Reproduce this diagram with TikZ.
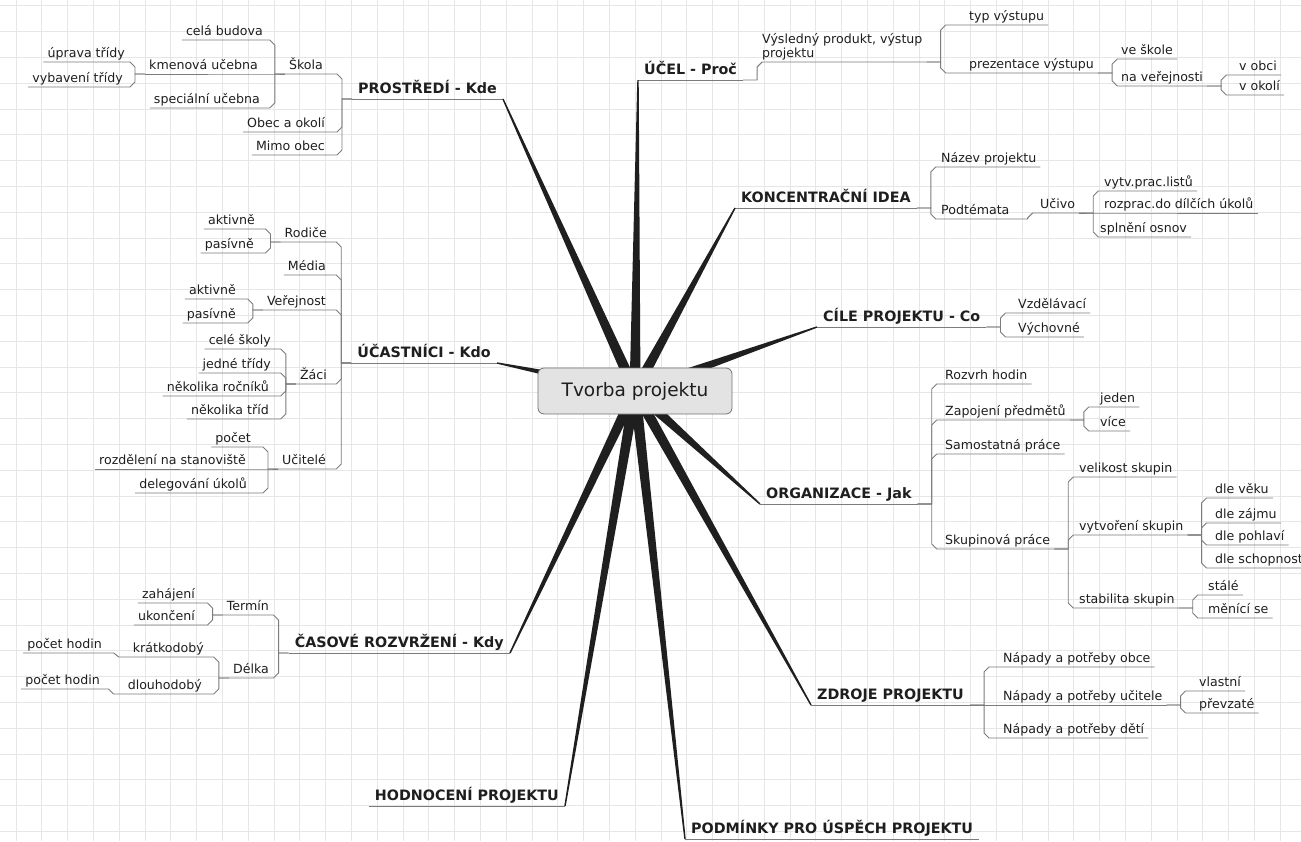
\documentclass[tikz,border=0pt]{standalone}
\usepackage{fontspec}
\setmainfont{DejaVu Sans}
\usetikzlibrary{calc}

\definecolor{ink}{HTML}{1E1E1E}
\definecolor{rule}{HTML}{7C7C7C}
\definecolor{paper}{HTML}{E6E6E6}
\definecolor{hubfill}{HTML}{E3E3E3}

\newcommand\smallfont{\fontsize{12.6}{14.5}\selectfont}
\newcommand\bigfont{\fontsize{14.3}{17}\selectfont\bfseries}
\newcommand\hubfont{\fontsize{18.5}{22}\selectfont}

\tikzset{
  txt/.style={font=\smallfont, text=ink, inner xsep=4pt, inner ysep=1.5pt},
  leaf/.style={txt, text height=9.5pt, text depth=3pt},
  lt/.style={leaf, anchor=south east},
  rt/.style={leaf, anchor=south west},
  topic/.style={txt, font=\bigfont, inner xsep=6pt, text height=11pt, text depth=3.5pt},
  branch/.style={draw=rule, line width=0.9pt},
  spoke/.style={fill=black!88},
  hubbox/.style={draw=black!55, fill=hubfill, rounded corners=6pt, line width=0.8pt,
    minimum width=194pt, minimum height=46pt, font=\hubfont, text=ink},
  gridline/.style={draw=paper, line width=0.7pt}
}

\newcommand\linkR[2]{%
  \draw[branch] let \p1=(#1.south east), \p2=(#2.south west) in
    (\p1) -- ({\x1+14pt},\y1) -- ({\x1+14pt},{\y2-max(-5pt,min(5pt,\y2-(\y1)))})
    -- ({\x1+19pt},\y2) -- (#2.south east);}
\newcommand\linkL[2]{%
  \draw[branch] let \p1=(#1.south west), \p2=(#2.south east) in
    (\p1) -- ({\x1-10pt},\y1) -- ({\x1-10pt},{\y2-max(-5pt,min(5pt,\y2-(\y1)))})
    -- ({\x1-15pt},\y2) -- (#2.south west);}
\newcommand\spoke[2]{%
  \fill[spoke] ($(hub)!5.5pt!90:(#1.#2)$) -- ($(#1.#2)!0.7pt!-90:(hub)$)
    -- ($(#1.#2)!0.7pt!90:(hub)$) -- ($(hub)!5.5pt!-90:(#1.#2)$) -- cycle;}

\begin{document}
\begin{tikzpicture}[x=1pt, y=-1pt]
    \useasboundingbox (0,0) rectangle (1301,841);
    \fill[white] (0,0) rectangle (1301,841);

    \foreach \k in {0,...,49}
    \draw[gridline] ({15.9+25.8*\k},0) -- ({15.9+25.8*\k},841);
    \foreach \k in {0,...,32}
    \draw[gridline] (0,{5.7+25.8*\k}) -- (1301,{5.7+25.8*\k});

    \coordinate (hub) at (635,391);

    \node[topic, anchor=south east] (pros) at (503,99) {PROSTŘEDÍ - Kde};
    \node[topic, anchor=south east] (ucast) at (497,363) {ÚČASTNÍCI - Kdo};
    \node[topic, anchor=south east] (cas) at (510,653) {ČASOVÉ ROZVRŽENÍ - Kdy};
    \node[topic, anchor=south east] (hodn) at (565,806) {HODNOCENÍ PROJEKTU};
    \node[topic, anchor=south west] (ucel) at (638,80) {ÚČEL - Proč};
    \node[topic, anchor=south west] (konc) at (735,208) {KONCENTRAČNÍ IDEA};
    \node[topic, anchor=south west] (cile) at (817,327) {CÍLE PROJEKTU - Co};
    \node[topic, anchor=south west] (org) at (760,504) {ORGANIZACE - Jak};
    \node[topic, anchor=south west] (zdroje) at (811,705) {ZDROJE PROJEKTU};
    \node[topic, anchor=south west] (podm) at (685,839) {PODMÍNKY PRO ÚSPĚCH PROJEKTU};

    \node[lt] (skola) at (327,74) {Škola};
    \node[lt] (obec) at (329,132) {Obec a okolí};
    \node[lt] (mimo) at (329,155) {Mimo obec};
    \node[lt] (celab) at (267,40) {celá budova};
    \node[lt] (kmen) at (262,74) {kmenová učebna};
    \node[lt] (spec) at (264,108) {speciální učebna};
    \node[lt] (uprava) at (129,62) {úprava třídy};
    \node[lt] (vybav) at (127,87) {vybavení třídy};

    \node[lt] (rodice) at (331,242) {Rodiče};
    \node[lt] (media) at (330,275) {Média};
    \node[lt] (verej) at (330,310) {Veřejnost};
    \node[lt] (zaci) at (331,384) {Žáci};
    \node[lt] (ucit) at (330,469) {Učitelé};
    \node[lt] (akt1) at (259,229) {aktivně};
    \node[lt] (pas1) at (258,253) {pasívně};
    \node[lt] (akt2) at (240,299) {aktivně};
    \node[lt] (pas2) at (240,323) {pasívně};
    \node[lt] (celes) at (275,349) {celé školy};
    \node[lt] (jedne) at (275,373) {jedné třídy};
    \node[lt] (rocn) at (273,396) {několika ročníků};
    \node[lt] (trid) at (273,419) {několika tříd};
    \node[lt] (pocet) at (255,447) {počet};
    \node[lt] (rozd) at (250,469) {rozdělení na stanoviště};
    \node[lt] (deleg) at (251,493) {delegování úkolů};

    \node[lt] (termin) at (273,615) {Termín};
    \node[lt] (delka) at (273,678) {Délka};
    \node[lt] (zahaj) at (199,603) {zahájení};
    \node[lt] (ukonc) at (199,625) {ukončení};
    \node[lt] (kratk) at (208,657) {krátkodobý};
    \node[lt] (dlouh) at (206,694) {dlouhodobý};
    \node[lt] (hod1) at (106,653) {počet hodin};
    \node[lt] (hod2) at (104,689) {počet hodin};

    \node[txt, align=left, anchor=south west] (vysl) at (758,62) {Výsledný produkt, výstup\\projektu};
    \node[rt] (typ) at (965,25) {typ výstupu};
    \node[rt] (prez) at (965,73) {prezentace výstupu};
    \node[rt] (vesk) at (1117,59) {ve škole};
    \node[rt] (naver) at (1117,86) {na veřejnosti};
    \node[rt] (vobci) at (1235,75) {v obci};
    \node[rt] (vokoli) at (1235,95) {v okolí};

    \node[rt] (nazev) at (937,167) {Název projektu};
    \node[rt] (podt) at (937,219) {Podtémata};
    \node[rt] (uciv) at (1036,213) {Učivo};
    \node[rt] (vytv) at (1100,191) {vytv.prac.listů};
    \node[rt] (rozp) at (1100,213) {rozprac.do dílčích úkolů};
    \node[rt] (spln) at (1096,237) {splnění osnov};

    \node[rt] (vzdel) at (1014,313) {Vzdělávací};
    \node[rt] (vych) at (1014,337) {Výchovné};

    \node[rt] (rozvrh) at (941,384) {Rozvrh hodin};
    \node[rt] (zapoj) at (941,420) {Zapojení předmětů};
    \node[rt] (samost) at (941,454) {Samostatná práce};
    \node[rt] (skup) at (941,549) {Skupinová práce};
    \node[rt] (jeden) at (1096,407) {jeden};
    \node[rt] (vice) at (1096,431) {více};
    \node[rt] (velik) at (1075,477) {velikost skupin};
    \node[rt] (vytvor) at (1075,535) {vytvoření skupin};
    \node[rt] (stab) at (1075,608) {stabilita skupin};
    \node[rt] (veku) at (1211,498) {dle věku};
    \node[rt] (zajmu) at (1211,523) {dle zájmu};
    \node[rt] (pohl) at (1211,545) {dle pohlaví};
    \node[rt] (schop) at (1211,568) {dle schopnost};
    \node[rt] (stale) at (1204,595) {stálé};
    \node[rt] (menici) at (1204,618) {měnící se};

    \node[rt] (obce) at (999,667) {Nápady a potřeby obce};
    \node[rt] (ucitele) at (999,705) {Nápady a potřeby učitele};
    \node[rt] (deti) at (999,738) {Nápady a potřeby dětí};
    \node[rt] (vlast) at (1195,691) {vlastní};
    \node[rt] (prevz) at (1195,713) {převzaté};

    \foreach \m in {pros,ucast,cas,hodn,ucel,konc,cile,org,zdroje,podm}
    \draw[branch] (\m.south west) -- (\m.south east);

    \foreach \pn/\cn in {ucel/vysl, vysl/typ, vysl/prez, prez/vesk, prez/naver,
        naver/vobci, naver/vokoli, konc/nazev, konc/podt, podt/uciv, uciv/vytv,
        uciv/rozp, uciv/spln, cile/vzdel, cile/vych, org/rozvrh, org/zapoj,
        org/samost, org/skup, zapoj/jeden, zapoj/vice, skup/velik, skup/vytvor,
        skup/stab, vytvor/veku, vytvor/zajmu, vytvor/pohl, vytvor/schop,
        stab/stale, stab/menici, zdroje/obce, zdroje/ucitele, zdroje/deti,
        ucitele/vlast, ucitele/prevz}
    \linkR{\pn}{\cn};

    \foreach \pn/\cn in {pros/skola, pros/obec, pros/mimo, skola/celab, skola/kmen,
        skola/spec, kmen/uprava, kmen/vybav, ucast/rodice, ucast/media, ucast/verej,
        ucast/zaci, ucast/ucit, rodice/akt1, rodice/pas1, verej/akt2, verej/pas2,
        zaci/celes, zaci/jedne, zaci/rocn, zaci/trid, ucit/pocet, ucit/rozd,
        ucit/deleg, cas/termin, cas/delka, termin/zahaj, termin/ukonc,
        delka/kratk, delka/dlouh, kratk/hod1, dlouh/hod2}
    \linkL{\pn}{\cn};

    \foreach \m in {ucel,konc,cile,org,zdroje,podm}
    \spoke{\m}{south west};
    \foreach \m in {pros,ucast,cas,hodn}
    \spoke{\m}{south east};

    \node[hubbox] (hubnode) at (hub) {Tvorba projektu};
\end{tikzpicture}
\end{document}
